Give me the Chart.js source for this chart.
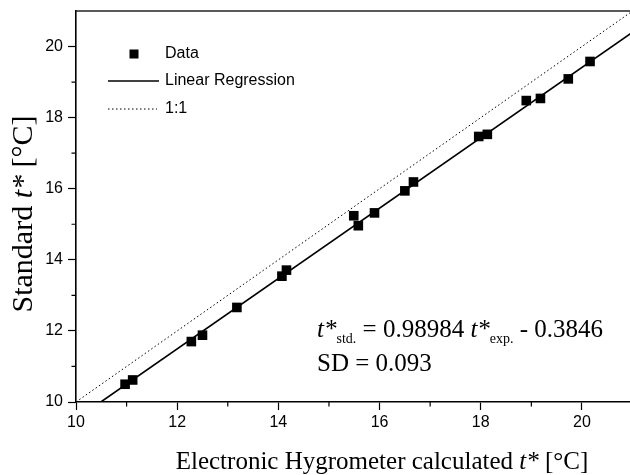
<!DOCTYPE html>
<html>
<head>
<meta charset="utf-8">
<script src="https://cdn.jsdelivr.net/npm/chart.js@4.4.1/dist/chart.umd.min.js"></script>
<style>
  html, body { margin: 0; padding: 0; background: #fff; }
  #wrap { width: 630px; height: 475px; }
</style>
</head>
<body>
<div id="wrap"><canvas id="hygroChart"></canvas></div>
<script>
// measured points: hygrometer (x) vs. standard (y), °C
const expTemp = [10.97, 11.12, 12.28, 12.50, 13.18, 14.07, 14.16, 15.49, 15.58, 15.90,
                 16.50, 16.67, 17.96, 18.13, 18.90, 19.18, 19.73, 20.16];
const stdTemp = [10.50, 10.62, 11.70, 11.88, 12.66, 13.54, 13.71, 15.24, 14.96, 15.32,
                 15.94, 16.19, 17.47, 17.53, 18.48, 18.54, 19.09, 19.58];

// fit results
const slope = 0.98984;
const intercept = -0.3846;
const sd = 0.093;

const xRange = [10, 20.95];
const yRange = [10, 21];
const majorStep = 2;

const SERIF = '"Liberation Serif", "Times New Roman", serif';
const SANS = '"Liberation Sans", Arial, sans-serif';

// regression line starts where it enters the plot at the bottom
const fitStart = (yRange[0] - intercept) / slope;
const fitLine = [fitStart, 21].map(x => ({ x: x, y: slope * x + intercept }));
const identityLine = [10, 21].map(v => ({ x: v, y: v }));

const isMajor = v => Math.abs(v / majorStep - Math.round(v / majorStep)) < 1e-6;

function drawRuns(ctx, runs, x, y, align) {
  let total = 0;
  runs.forEach(r => { ctx.font = r.font; r.w = ctx.measureText(r.text).width; total += r.w; });
  let cx = align === 'center' ? x - total / 2 : x;
  runs.forEach(r => {
    ctx.font = r.font;
    ctx.fillText(r.text, cx, y + (r.dy || 0));
    cx += r.w;
  });
}

const extras = {
  id: 'extras',
  afterDraw(chart) {
    const ctx = chart.ctx;
    const area = chart.chartArea;
    const xs = chart.scales.x, ys = chart.scales.y;
    ctx.save();

    // top frame line
    ctx.strokeStyle = '#222';
    ctx.lineWidth = 1.6;
    ctx.beginPath();
    ctx.moveTo(area.left, area.top);
    ctx.lineTo(area.right, area.top);
    ctx.stroke();

    // minor ticks
    ctx.strokeStyle = '#000';
    ctx.lineWidth = 1.2;
    ctx.beginPath();
    for (let v = Math.ceil(xRange[0]); v < xRange[1]; v++) {
      if (isMajor(v)) continue;
      const px = xs.getPixelForValue(v);
      ctx.moveTo(px, area.bottom);
      ctx.lineTo(px, area.bottom + 4.5);
    }
    for (let v = Math.ceil(yRange[0]); v < yRange[1]; v++) {
      if (isMajor(v)) continue;
      const py = ys.getPixelForValue(v);
      ctx.moveTo(area.left, py);
      ctx.lineTo(area.left - 4.5, py);
    }
    ctx.stroke();

    // legend
    const ds = chart.data.datasets;
    const lx = 108, tx = 165;
    const rows = [54, 81, 109];
    ctx.fillStyle = '#000';
    ctx.font = '16px ' + SANS;
    ctx.textBaseline = 'middle';
    ctx.textAlign = 'left';
    ctx.fillRect(134 - 4.5, rows[0] - 4.5, 9, 9);
    ctx.fillText(ds[0].label, tx, rows[0]);
    ctx.lineWidth = ds[1].borderWidth;
    ctx.beginPath();
    ctx.moveTo(lx, rows[1]);
    ctx.lineTo(159, rows[1]);
    ctx.stroke();
    ctx.fillText(ds[1].label, tx, rows[1]);
    ctx.lineWidth = ds[2].borderWidth;
    ctx.setLineDash(ds[2].borderDash);
    ctx.beginPath();
    ctx.moveTo(lx, rows[2]);
    ctx.lineTo(157, rows[2]);
    ctx.stroke();
    ctx.setLineDash([]);
    ctx.fillText(ds[2].label, tx, rows[2]);

    // fit equation
    ctx.textBaseline = 'alphabetic';
    const big = '25px ' + SERIF, bigI = 'italic 25px ' + SERIF, sub = '14px ' + SERIF;
    drawRuns(ctx, [
      { text: 't*', font: bigI },
      { text: 'std.', font: sub, dy: 6 },
      { text: ' = ' + slope.toFixed(5) + ' ', font: big },
      { text: 't*', font: bigI },
      { text: 'exp.', font: sub, dy: 6 },
      { text: ' - ' + Math.abs(intercept).toFixed(4), font: big }
    ], 317, 337, 'left');
    drawRuns(ctx, [{ text: 'SD = ' + sd.toFixed(3), font: big }], 317, 371, 'left');

    // axis titles
    const tf = '25px ' + SERIF, tfI = 'italic 25px ' + SERIF;
    drawRuns(ctx, [
      { text: 'Electronic Hygrometer calculated ', font: tf },
      { text: 't*', font: tfI },
      { text: ' [°C]', font: tf }
    ], 382, 469, 'center');
    const yf = '30px ' + SERIF, yfI = 'italic 30px ' + SERIF;
    ctx.translate(32, 214);
    ctx.rotate(-Math.PI / 2);
    drawRuns(ctx, [
      { text: 'Standard ', font: yf },
      { text: 't*', font: yfI },
      { text: ' [°C]', font: yf }
    ], 0, 0, 'center');

    ctx.restore();
  }
};

const axisCommon = {
  type: 'linear',
  border: { display: true, color: '#000', width: 1.6 },
  grid: {
    drawOnChartArea: false,
    drawTicks: true,
    tickLength: 8,
    tickWidth: 1.2,
    tickColor: c => isMajor(c.tick.value) ? '#000' : 'rgba(0,0,0,0)'
  },
  ticks: {
    stepSize: 1,
    includeBounds: false,
    color: '#000',
    font: { family: SANS, size: 16 },
    callback: v => isMajor(v) ? String(v) : ''
  }
};

new Chart(document.getElementById('hygroChart'), {
  type: 'scatter',
  data: {
    datasets: [
      {
        label: 'Data',
        data: expTemp.map((x, i) => ({ x: x, y: stdTemp[i] })),
        pointStyle: 'rect',
        pointRadius: 6.8,
        pointBackgroundColor: '#000',
        pointBorderWidth: 0
      },
      {
        label: 'Linear Regression',
        data: fitLine,
        showLine: true,
        borderColor: '#000',
        borderWidth: 1.6,
        pointRadius: 0
      },
      {
        label: '1:1',
        data: identityLine,
        showLine: true,
        borderColor: '#000',
        borderWidth: 1,
        borderDash: [1.5, 2.5],
        pointRadius: 0
      }
    ]
  },
  options: {
    responsive: true,
    maintainAspectRatio: false,
    animation: false,
    layout: { autoPadding: false, padding: { left: 30, top: 11, right: 0, bottom: 45 } },
    plugins: { legend: { display: false }, tooltip: { enabled: false } },
    scales: {
      x: Object.assign({}, axisCommon, {
        min: xRange[0], max: xRange[1],
        ticks: Object.assign({}, axisCommon.ticks, { padding: 3, maxRotation: 0, autoSkip: false }),
        afterFit: s => { s.height = 28; s.paddingRight = 0; }
      }),
      y: Object.assign({}, axisCommon, {
        min: yRange[0], max: yRange[1],
        ticks: Object.assign({}, axisCommon.ticks, { padding: 5, autoSkip: false }),
        afterFit: s => { s.width = 46; s.paddingTop = 0; }
      })
    }
  },
  plugins: [extras]
});
</script>
</body>
</html>
